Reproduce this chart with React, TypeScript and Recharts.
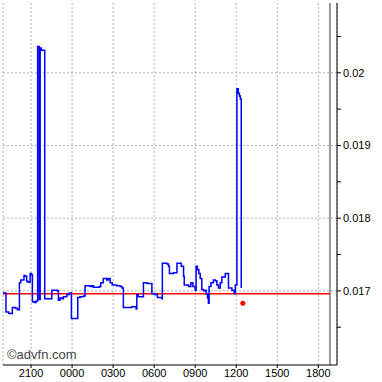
import { LineChart, Line, XAxis, YAxis, CartesianGrid, ReferenceLine, ReferenceDot } from 'recharts';

// minutes after 18:00 of the previous day
const times = [
  57, 70, 82, 98, 112, 120, 129, 135, 149, 154, 161, 168, 176, 182, 186, 194, 202,
  209, 216, 220, 225, 240, 271, 295, 300, 307, 316, 322, 337, 347, 357, 385, 395,
  410, 417, 439, 448, 454, 480, 486, 497, 505, 512, 519, 527, 536, 556, 571, 579,
  585, 622, 641, 644, 650, 673, 689, 710, 724, 734, 754, 756, 776, 783, 787, 805,
  820, 839, 849, 852, 871, 881, 890, 900, 904, 910, 916, 922, 929, 936, 944, 948,
  954, 958, 961, 969, 980, 988, 995, 1002, 1010, 1017, 1032, 1046, 1061, 1071,
  1076, 1083, 1089, 1094, 1098, 1102,
];
const prices = [
  0.01697, 0.01671, 0.01669, 0.01677, 0.01676, 0.01674, 0.01711, 0.01715, 0.01721, 0.0172, 0.01713, 0.01712, 0.01724, 0.01722, 0.01685, 0.01684, 0.01686,
  0.02036, 0.01688, 0.02034, 0.02031, 0.01689, 0.01701, 0.017, 0.01687, 0.0169, 0.01689, 0.01692, 0.01695, 0.01697, 0.01662, 0.01691, 0.01692,
  0.01693, 0.01707, 0.01706, 0.01707, 0.01705, 0.01706, 0.01711, 0.01717, 0.01717, 0.01715, 0.01717, 0.01711, 0.01708, 0.01707, 0.01706, 0.01704,
  0.01677, 0.01678, 0.01675, 0.01695, 0.01692, 0.01711, 0.0171, 0.01696, 0.01695, 0.01691, 0.01689, 0.01738, 0.01737, 0.01734, 0.01724, 0.01725,
  0.01738, 0.01734, 0.0172, 0.01708, 0.01706, 0.01711, 0.01706, 0.01701, 0.01734, 0.01729, 0.01724, 0.01717, 0.01702, 0.017, 0.01701, 0.01696,
  0.0169, 0.01683, 0.01706, 0.01711, 0.01715, 0.01714, 0.01708, 0.01704, 0.01711, 0.01719, 0.01724, 0.01704, 0.01701, 0.01696,
  0.01708, 0.01978, 0.01972, 0.01968, 0.01964, 0.01704,
];

const prevClose = 0.01696;
const lastTime = 1109;
const lastPrice = 0.01683;
const dayEnd = 1491;

const xTicks = [180, 360, 540, 720, 900, 1080, 1260, 1440];
const yMajor = [0.017, 0.018, 0.019, 0.02];
const yAll = [0.0165, 0.017, 0.0175, 0.018, 0.0185, 0.019, 0.0195, 0.02, 0.0205];

const data = times.map((t, i) => ({ t, price: prices[i] }));

const fmtTime = (t: number) => {
  const h = (18 + Math.round(t / 60)) % 24;
  return `${h < 10 ? '0' : ''}${h}00`;
};

const FONT = '"Liberation Sans", Arial, sans-serif';
const GRID = '#aab3b3';

export default function App() {
  return (
    <div style={{ position: 'absolute', left: 0, top: 0, width: 382, height: 382, background: '#fff' }}>
      <LineChart width={382} height={382} data={data} margin={{ top: 3, right: 0, left: 3, bottom: 0 }}>
        <CartesianGrid xAxisId="b" yAxisId="r" horizontal={false} stroke={GRID} strokeDasharray="2 2" />
        <XAxis
          xAxisId="b"
          dataKey="t"
          type="number"
          domain={[57, 1522]}
          ticks={xTicks}
          tickFormatter={fmtTime}
          height={17}
          tickSize={3}
          tickMargin={1}
          interval={0}
          axisLine={{ stroke: '#000' }}
          tickLine={{ stroke: '#000' }}
          tick={{ fontSize: 11, fill: '#000', fontFamily: FONT }}
        />
        <XAxis
          xAxisId="top"
          orientation="top"
          type="number"
          domain={[57, 1522]}
          height={0}
          tick={false}
          tickLine={false}
          axisLine={{ stroke: '#000' }}
        />
        <YAxis
          yAxisId="r"
          orientation="right"
          type="number"
          domain={[0.01598, 0.02096]}
          ticks={yAll}
          interval={0}
          tickFormatter={(v: number) => (yMajor.includes(v) ? String(v) : '')}
          width={45}
          tickSize={4}
          tickMargin={2}
          axisLine={{ stroke: '#000' }}
          tickLine={{ stroke: '#000' }}
          tick={{ fontSize: 11, fill: '#000', fontFamily: FONT }}
        />
        <YAxis
          yAxisId="l"
          orientation="left"
          mirror
          type="number"
          domain={[0.01598, 0.02096]}
          ticks={yAll}
          interval={0}
          tickFormatter={() => ''}
          width={0}
          tickSize={3}
          axisLine={{ stroke: '#000' }}
          tickLine={{ stroke: '#000' }}
        />
        {yMajor.map((v) => (
          <ReferenceLine key={v} xAxisId="b" yAxisId="r" y={v} stroke={GRID} strokeDasharray="2 2" />
        ))}
        <ReferenceLine xAxisId="b" yAxisId="r" x={dayEnd} stroke="#999" strokeWidth={2} />
        <ReferenceLine
          xAxisId="b"
          yAxisId="r"
          segment={[{ x: 57, y: prevClose }, { x: dayEnd, y: prevClose }]}
          stroke="#ff0000"
          strokeWidth={1.5}
        />
        <Line
          xAxisId="b"
          yAxisId="r"
          type="stepAfter"
          dataKey="price"
          stroke="#0000ff"
          strokeWidth={1.5}
          dot={false}
          isAnimationActive={false}
        />
        <ReferenceDot xAxisId="b" yAxisId="r" x={lastTime} y={lastPrice} r={2.5} fill="#ff0000" stroke="none" />
      </LineChart>
      <div
        style={{
          position: 'absolute',
          left: 7,
          top: 347,
          fontSize: 13,
          fontFamily: FONT,
          color: '#444',
        }}
      >
        ©advfn.com
      </div>
    </div>
  );
}
